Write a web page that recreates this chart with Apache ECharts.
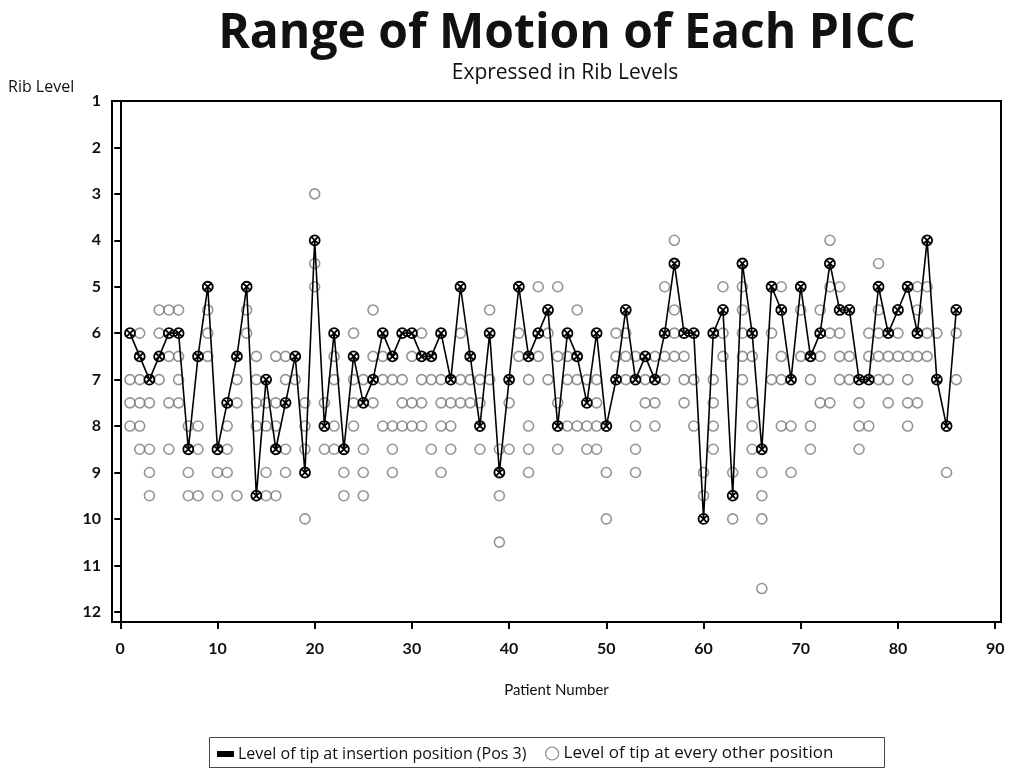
<!DOCTYPE html>
<html>
<head>
<meta charset="utf-8">
<script src="https://cdn.jsdelivr.net/npm/echarts@6/dist/echarts.min.js"></script>
<style>
  html, body { margin: 0; padding: 0; background: #fff; }
  #chart { width: 1017px; height: 778px; }
</style>
</head>
<body>
<div id="chart"></div>
<script>
// Patient numbers 1..86, rib level of the tip at the insertion position (Pos 3)
const patients = Array.from({ length: 86 }, (_, i) => i + 1);
const insertionLevel = [
  6, 6.5, 7, 6.5, 6, 6, 8.5, 6.5, 5, 8.5,
  7.5, 6.5, 5, 9.5, 7, 8.5, 7.5, 6.5, 9, 4,
  8, 6, 8.5, 6.5, 7.5, 7, 6, 6.5, 6, 6,
  6.5, 6.5, 6, 7, 5, 6.5, 8, 6, 9, 7,
  5, 6.5, 6, 5.5, 8, 6, 6.5, 7.5, 6, 8,
  7, 5.5, 7, 6.5, 7, 6, 4.5, 6, 6, 10,
  6, 5.5, 9.5, 4.5, 6, 8.5, 5, 5.5, 7, 5,
  6.5, 6, 4.5, 5.5, 5.5, 7, 7, 5, 6, 5.5,
  5, 6, 4, 7, 8, 5.5
];
// rib levels of the tip at every other position, one list per patient
const otherLevels = [
  [7, 7.5, 8], [6, 7, 7.5, 8, 8.5], [7.5, 8.5, 9, 9.5], [5.5, 6, 7], [5.5, 6.5, 7.5, 8.5],
  [5.5, 6.5, 7, 7.5], [8, 9, 9.5], [8, 8.5, 9.5], [5.5, 6, 6.5], [9, 9.5],
  [8, 8.5, 9], [7, 7.5, 9.5], [5.5, 6], [6.5, 7, 7.5, 8], [7.5, 8, 9, 9.5],
  [6.5, 7.5, 8, 9.5], [6.5, 7, 8.5, 9], [7], [7.5, 8, 8.5, 10], [3, 4.5, 5],
  [7.5, 8.5], [6.5, 7, 8, 8.5], [9, 9.5], [6, 7, 7.5, 8], [7, 8.5, 9, 9.5],
  [5.5, 6.5, 7.5], [6.5, 7, 8], [7, 8, 8.5, 9], [7, 7.5, 8], [6.5, 7.5, 8],
  [6, 7, 7.5, 8], [7, 8.5], [7, 7.5, 8, 9], [7.5, 8, 8.5], [6, 7, 7.5],
  [7, 7.5], [7, 7.5, 8.5], [5.5, 7], [8.5, 9.5, 10.5], [7.5, 8.5],
  [6, 6.5], [7, 8, 8.5, 9], [5, 6.5], [6, 7], [5, 6.5, 7.5, 8.5],
  [6.5, 7, 8], [5.5, 7, 8], [7, 8, 8.5], [7, 7.5, 8, 8.5], [9, 10],
  [6, 6.5], [6, 6.5, 7], [6.5, 8, 8.5, 9], [7, 7.5], [6.5, 7.5, 8],
  [5, 6.5, 7], [4, 5.5, 6, 6.5], [6.5, 7, 7.5], [7, 8], [9, 9.5],
  [7, 7.5, 8, 8.5], [5, 6, 6.5], [9, 10], [5, 5.5, 6, 6.5, 7], [6.5, 7.5, 8, 8.5],
  [9, 9.5, 10, 11.5], [6, 7], [5, 6.5, 7, 8], [8, 9], [5.5, 6.5],
  [6.5, 7, 8, 8.5], [5.5, 6.5, 7.5], [4, 5, 6, 7.5], [5, 6, 6.5, 7], [6.5, 7],
  [7.5, 8, 8.5], [6, 6.5, 8], [4.5, 5.5, 6, 6.5, 7], [6.5, 7, 7.5], [6, 6.5],
  [6.5, 7, 7.5, 8], [5, 5.5, 6.5, 7.5], [5, 6, 6.5], [6], [9],
  [6, 7]
];
const xTicks = [0, 10, 20, 30, 40, 50, 60, 70, 80, 90];
const yTicks = [1, 2, 3, 4, 5, 6, 7, 8, 9, 10, 11, 12];

const NAME_INS = 'Level of tip at insertion position (Pos 3)';
const NAME_OTHER = 'Level of tip at every other position';
const FONT = 'Lato, "DejaVu Sans", sans-serif';
const WIDE = '"Open Sans", Lato, sans-serif';
const CIRCLE_X = 'path://M0,5A5,5 0 1,1 10,5A5,5 0 1,1 0,5Z M1.6,1.6L8.4,8.4 M8.4,1.6L1.6,8.4';

const insertionData = patients.map((p, i) => [p, insertionLevel[i]]);
const otherData = [];
otherLevels.forEach((lv, i) => lv.forEach((v) => otherData.push([patients[i], v])));

const chart = echarts.init(document.getElementById('chart'));
chart.setOption({
  animation: false,
  backgroundColor: '#fff',
  title: [
    { text: 'Range of Motion of Each PICC', left: 562, top: 5, textAlign: 'center',
      textStyle: { fontFamily: WIDE, fontSize: 48, fontWeight: 'bold', color: '#111' } },
    { text: 'Expressed in Rib Levels', left: 560, top: 58, textAlign: 'center',
      textStyle: { fontFamily: WIDE, fontSize: 21, fontWeight: 'normal', color: '#111' } },
    { text: 'Rib Level', left: 3, top: 74,
      textStyle: { fontFamily: WIDE, fontSize: 16, fontWeight: 'normal', color: '#111' } }
  ],
  grid: { left: 112, right: 16, top: 101, bottom: 156, show: true, borderColor: '#000', borderWidth: 2 },
  xAxis: {
    type: 'value', min: -0.85, max: 90.6,
    name: 'Patient Number', nameLocation: 'middle', nameGap: 61,
    nameTextStyle: { fontFamily: FONT, fontSize: 15, color: '#111' },
    axisLine: { lineStyle: { color: '#000', width: 2 } },
    axisTick: { customValues: xTicks, length: 7, lineStyle: { color: '#000', width: 2 } },
    axisLabel: { customValues: xTicks, margin: 19, fontFamily: FONT, fontSize: 16, fontWeight: 'bold', color: '#111' },
    splitLine: { show: false }
  },
  yAxis: {
    type: 'value', inverse: true, min: 1, max: 12.22,
    axisLine: { lineStyle: { color: '#000', width: 2 } },
    axisTick: { customValues: yTicks, length: 6, lineStyle: { color: '#000', width: 2 } },
    axisLabel: { customValues: yTicks, margin: 11, fontFamily: FONT, fontSize: 16, fontWeight: 'bold', color: '#111' },
    splitLine: { show: false }
  },
  legend: [
    { data: [{ name: NAME_INS, icon: 'rect' }], left: 212, top: 741, itemWidth: 15, itemHeight: 4,
      itemStyle: { color: '#000' }, textStyle: { fontFamily: WIDE, fontSize: 16, color: '#111' }, itemGap: 6 },
    { data: [{ name: NAME_OTHER, icon: 'circle' }], left: 540, top: 740, itemWidth: 13, itemHeight: 13,
      itemStyle: { color: '#fff', borderColor: '#666', borderWidth: 1.2 },
      textStyle: { fontFamily: WIDE, fontSize: 17, color: '#111' } }
  ],
  graphic: [
    { type: 'rect', left: 207, top: 735, shape: { width: 675, height: 30 },
      style: { fill: 'none', stroke: '#444', lineWidth: 1 }, silent: true }
  ],
  series: [
    { name: NAME_OTHER, type: 'scatter', data: otherData, symbol: 'circle', symbolSize: 10,
      itemStyle: { color: 'transparent', borderColor: '#7a7a7a', borderWidth: 1.6 }, z: 2 },
    { name: NAME_INS, type: 'line', data: insertionData, symbol: CIRCLE_X, symbolSize: 10,
      lineStyle: { color: '#000', width: 1.6 },
      itemStyle: { color: 'transparent', borderColor: '#000', borderWidth: 1.8 }, z: 3 }
  ]
});
</script>
</body>
</html>
